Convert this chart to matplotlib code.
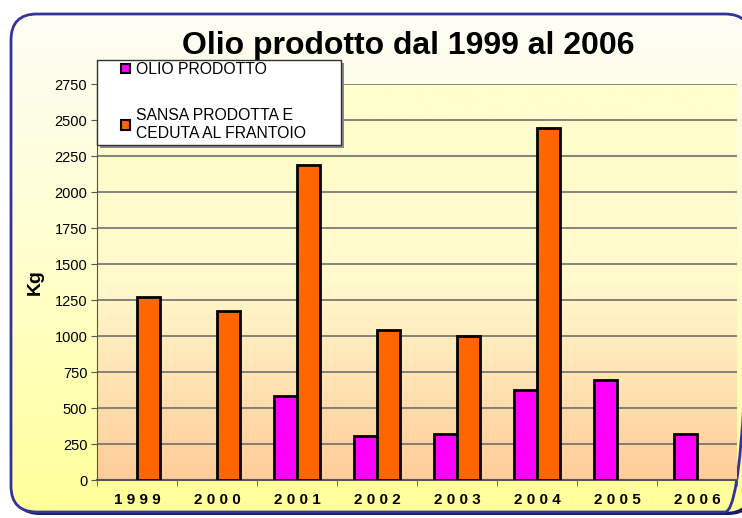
import numpy as np
import matplotlib
matplotlib.use("Agg")
import matplotlib.pyplot as plt
from matplotlib.patches import FancyBboxPatch, Patch, Rectangle
from matplotlib.colors import LinearSegmentedColormap

plt.rcParams['font.family'] = ['Liberation Sans', 'DejaVu Sans']

years = ['1999', '2000', '2001', '2002', '2003', '2004', '2005', '2006']
olio = [0, 0, 585, 305, 320, 625, 695, 320]
sansa = [1270, 1175, 2190, 1045, 1000, 2445, 0, 0]
labels = ['OLIO PRODOTTO', 'SANSA PRODOTTA E\nCEDUTA AL FRANTOIO']
yticks = np.arange(0, 2751, 250)

W, H = 742, 518
fig = plt.figure(figsize=(W / 100, H / 100), dpi=100)
fig.patch.set_facecolor('white')

def fx(px):
    return px / W

def fy(py):
    return 1 - py / H

# outer rounded frame with shadow and a soft yellow gradient
bg = fig.add_axes([0, 0, 1, 1], zorder=-10)
bg.set_xlim(0, W)
bg.set_ylim(H, 0)
bg.axis('off')
shadow = FancyBboxPatch((14, 17), 740, 498, boxstyle='round,pad=0,rounding_size=26',
                        facecolor='#1a1a66', edgecolor='none')
bg.add_patch(shadow)
frame = FancyBboxPatch((11, 14), 740, 498, boxstyle='round,pad=0,rounding_size=26',
                       facecolor='none', edgecolor='#333399', linewidth=2)
bg.add_patch(frame)
outer_cmap = LinearSegmentedColormap.from_list('outer', ['#fdfdf6', '#ffffcc', '#ffff99'])
grad = np.linspace(0, 1, 256).reshape(-1, 1)
im = bg.imshow(grad, cmap=outer_cmap, extent=(11, 751, 512, 14), aspect='auto', zorder=1)
im.set_clip_path(frame)
frame.set_zorder(2)

ax = fig.add_axes([fx(97), fy(480), fx(737) - fx(97), fy(84) - fy(480)])
ax.set_facecolor('none')
x = np.arange(len(years))
w = 0.2857
inner_cmap = LinearSegmentedColormap.from_list('inner', ['#ffcc99', '#fff9cc', '#ffffcc'])
ax.imshow(grad, cmap=inner_cmap, extent=(-0.5, len(years) - 0.5, 0, 2750),
          aspect='auto', origin='lower', zorder=0)

olio_a = np.array(olio)
sansa_a = np.array(sansa)
m1 = olio_a > 0
m2 = sansa_a > 0
ax.bar(x[m1] - w / 2, olio_a[m1], w, color='#ff00ff', edgecolor='black', linewidth=2, zorder=3)
ax.bar(x[m2] + w / 2, sansa_a[m2], w, color='#ff6600', edgecolor='black', linewidth=2, zorder=3)

ax.set_xlim(-0.5, len(years) - 0.5)
ax.set_ylim(0, 2750)
ax.set_yticks(yticks)
ax.yaxis.grid(True, color='#707070', linewidth=1.2)
for line in ax.get_ygridlines():
    line.set_zorder(1)
ax.tick_params(axis='y', labelsize=10.5, length=4, color='#555555', pad=3)

ax.set_xticks(x)
ax.set_xticklabels([' '.join(y) for y in years], fontweight='bold', fontsize=11)
ax.set_xticks(np.arange(-0.5, len(years)), minor=True)
ax.tick_params(axis='x', which='major', length=0, pad=9)
ax.tick_params(axis='x', which='minor', length=4, color='#555555')

for s in ['top', 'right']:
    ax.spines[s].set_visible(False)
ax.spines['left'].set_color('#555555')
ax.spines['bottom'].set_color('#555555')
ax.spines['bottom'].set_linewidth(1.5)

ax.set_ylabel('Kg', fontweight='bold', fontsize=14, labelpad=8)

fig.text(fx(408), fy(46), 'Olio prodotto dal 1999 al 2006', ha='center', va='center',
         fontsize=23, fontweight='bold')

# legend box drawn on an overlay so it sits above the plot
over = fig.add_axes([0, 0, 1, 1], zorder=5)
over.set_xlim(0, W)
over.set_ylim(H, 0)
over.axis('off')
over.add_patch(Rectangle((100, 63), 244, 85, facecolor='#8a8a8a', edgecolor='none'))
over.add_patch(Rectangle((97, 60), 244, 85, facecolor='white', edgecolor='#333333', linewidth=1))

handles = [Patch(facecolor='#ff00ff', edgecolor='black', linewidth=1.5),
           Patch(facecolor='#ff6600', edgecolor='black', linewidth=1.5)]
leg = fig.legend(handles, labels, loc='upper left', bbox_to_anchor=(fx(121), fy(62)),
                 fontsize=11.3, handlelength=0.55, handleheight=0.55, handletextpad=0.4,
                 labelspacing=2.0, borderpad=0, borderaxespad=0, frameon=False)
leg.set_zorder(10)

fig.savefig('out.png', dpi=100)
